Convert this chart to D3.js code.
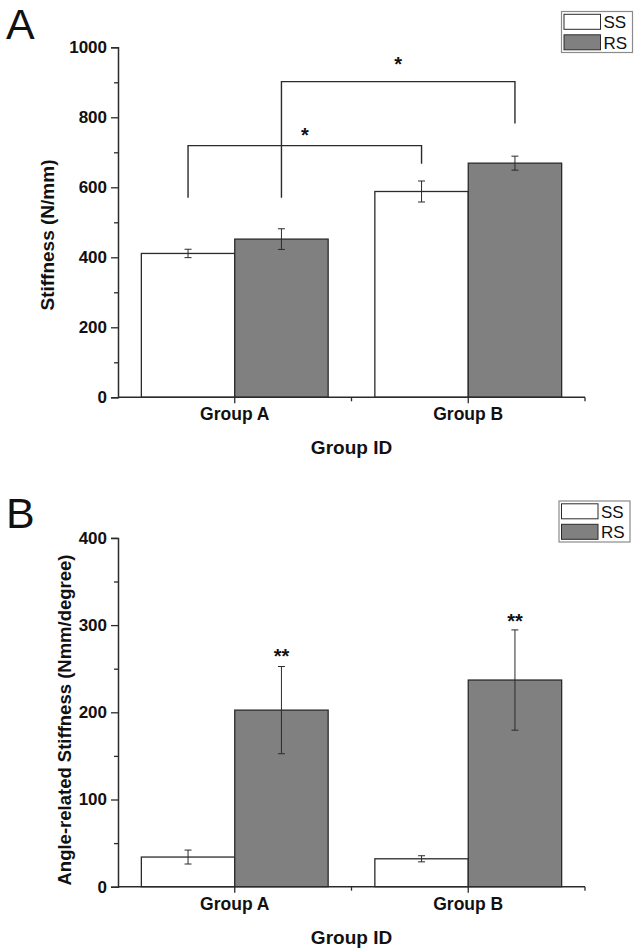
<!DOCTYPE html>
<html>
<head>
<meta charset="utf-8">
<script src="https://cdn.jsdelivr.net/npm/d3@7"></script>
<style>
  html, body { margin: 0; padding: 0; background: #fff; }
  svg { display: block; }
  text { font-family: "Liberation Sans", Arial, sans-serif; fill: #111; }
</style>
</head>
<body>
<svg id="chart" width="638" height="952"></svg>
<script>
// ---------- data ----------
const categories = ["Group A", "Group B"];
const series = ["SS", "RS"];

// Panel A: Stiffness (N/mm)
const stiffnessSS = [411, 588];
const stiffnessRS = [452, 669];
const stiffnessErrSS = [12, 30];
const stiffnessErrRS = [29.5, 20];
const stiffnessTicks = [0, 200, 400, 600, 800, 1000];
const stiffnessMinorTicks = [100, 300, 500, 700, 900];

// Significance brackets in panel A
const bracketFrom = [["Group A", "SS"], ["Group A", "RS"]];
const bracketTo = [["Group B", "SS"], ["Group B", "RS"]];
const bracketLevel = [719, 902];
const bracketLeftEnd = [570, 570];
const bracketRightEnd = [667, 782];
const bracketStarLevel = [759, 962];
const bracketLabel = ["*", "*"];

// Panel B: Angle-related Stiffness (Nmm/degree)
const angleSS = [34, 32];
const angleRS = [202.5, 237];
const angleErrSS = [8, 3.5];
const angleErrRS = [50, 57.5];
const angleTicks = [0, 100, 200, 300, 400];
const angleMinorTicks = [50, 150, 250, 350];
const angleStarLevel = [268, 308];
const angleStarLabel = ["**", "**"];

// ---------- drawing ----------
const svg = d3.select("#chart");
const INK = "#2b2b2b";
const fills = { SS: "#ffffff", RS: "#808080" };

const x0 = d3.scaleBand().domain(categories).range([118, 585]).paddingInner(0.2).paddingOuter(0.1);
const x1 = d3.scaleBand().domain(series).range([0, x0.bandwidth()]);
const cx = c => x0(c) + x0.bandwidth() / 2;
const bx = (c, s) => x0(c) + x1(s) + x1.bandwidth() / 2;

function panel(opts) {
  const y = d3.scaleLinear().domain(opts.domain).range(opts.yRange);
  const g = svg.append("g");
  const base = y(0);

  // panel letter
  g.append("text").attr("x", 6).attr("y", opts.letterY)
    .attr("font-size", 43).text(opts.letter);

  // bars
  const rows = [];
  categories.forEach((c, i) => {
    rows.push({ c, s: "SS", v: opts.ss[i], e: opts.ssErr[i] });
    rows.push({ c, s: "RS", v: opts.rs[i], e: opts.rsErr[i] });
  });
  g.selectAll("rect.bar").data(rows).join("rect")
    .attr("class", "bar")
    .attr("x", d => x0(d.c) + x1(d.s))
    .attr("width", x1.bandwidth())
    .attr("y", d => y(d.v))
    .attr("height", d => base - y(d.v))
    .attr("fill", d => fills[d.s])
    .attr("stroke", INK).attr("stroke-width", 1.3);

  // error bars
  const eg = g.selectAll("g.err").data(rows).join("g").attr("class", "err");
  eg.append("line")
    .attr("x1", d => bx(d.c, d.s)).attr("x2", d => bx(d.c, d.s))
    .attr("y1", d => y(d.v + d.e)).attr("y2", d => y(d.v - d.e))
    .attr("stroke", INK).attr("stroke-width", 1);
  [1, -1].forEach(sign => {
    eg.append("line")
      .attr("x1", d => bx(d.c, d.s) - 3.5).attr("x2", d => bx(d.c, d.s) + 3.5)
      .attr("y1", d => y(d.v + sign * d.e)).attr("y2", d => y(d.v + sign * d.e))
      .attr("stroke", INK).attr("stroke-width", 1);
  });

  // y axis
  const yAxis = d3.axisLeft(y).tickValues(opts.ticks).tickSize(7).tickPadding(4).tickFormat(d3.format("d"));
  const ya = g.append("g").attr("transform", "translate(118,0)").call(yAxis);
  ya.select(".domain").attr("stroke", INK).attr("stroke-width", 1.5);
  ya.selectAll(".tick line").attr("stroke", INK).attr("stroke-width", 1.3);
  ya.selectAll(".tick text").attr("font-size", 17).attr("font-weight", "bold")
    .attr("fill", "#111").attr("font-family", "'Liberation Sans', Arial, sans-serif");
  const yMinor = d3.axisLeft(y).tickValues(opts.minor).tickSize(4).tickFormat("");
  const ym = g.append("g").attr("transform", "translate(118,0)").call(yMinor);
  ym.select(".domain").remove();
  ym.selectAll(".tick line").attr("stroke", INK).attr("stroke-width", 1.3);

  // x axis
  const xa = g.append("g").attr("transform", `translate(0,${base})`);
  xa.append("line").attr("x1", 118).attr("x2", 585).attr("y1", 0).attr("y2", 0)
    .attr("stroke", INK).attr("stroke-width", 1.5);
  xa.selectAll("line.major").data(categories).join("line").attr("class", "major")
    .attr("x1", d => cx(d)).attr("x2", d => cx(d)).attr("y1", 0).attr("y2", 6)
    .attr("stroke", INK).attr("stroke-width", 1.3);
  xa.selectAll("line.minor").data(categories).join("line").attr("class", "minor")
    .attr("x1", d => cx(d) + x0.step() / 2).attr("x2", d => cx(d) + x0.step() / 2)
    .attr("y1", 0).attr("y2", 4)
    .attr("stroke", INK).attr("stroke-width", 1.3);
  xa.selectAll("text.cat").data(categories).join("text").attr("class", "cat")
    .attr("x", d => cx(d)).attr("y", 23).attr("text-anchor", "middle")
    .attr("font-size", 17.5).attr("font-weight", "bold").text(d => d);
  xa.append("text").attr("x", 351.5).attr("y", 57).attr("text-anchor", "middle")
    .attr("font-size", 19).attr("font-weight", "bold").text("Group ID");

  // y title
  g.append("text")
    .attr("transform", `translate(${opts.titleX},${opts.titleY}) rotate(-90)`)
    .attr("text-anchor", "middle").attr("font-size", opts.titleSize).attr("font-weight", "bold")
    .text(opts.title);

  // legend
  const lg = g.append("g").attr("transform", `translate(${opts.legend[0]},${opts.legend[1]})`);
  lg.append("rect").attr("x", 0).attr("y", 0).attr("width", 71).attr("height", 41)
    .attr("fill", "#fff").attr("stroke", "#8a8a8a").attr("stroke-width", 1.2);
  series.forEach((s, i) => {
    lg.append("rect").attr("x", 2.5).attr("y", 2.8 + i * 20.5).attr("width", 36.5).attr("height", 15)
      .attr("fill", fills[s]).attr("stroke", INK).attr("stroke-width", 1);
    lg.append("text").attr("x", 42).attr("y", 16.5 + i * 20.5).attr("font-size", 17).text(s);
  });

  return { g, y };
}

const pA = panel({
  letter: "A", letterY: 39,
  domain: [0, 1000], yRange: [397.3, 47.3],
  ss: stiffnessSS, rs: stiffnessRS, ssErr: stiffnessErrSS, rsErr: stiffnessErrRS,
  ticks: stiffnessTicks, minor: stiffnessMinorTicks,
  title: "Stiffness (N/mm)", titleX: 54, titleY: 235, titleSize: 19,
  legend: [561.5, 11.5]
});

// brackets
bracketFrom.forEach((f, i) => {
  const t = bracketTo[i];
  const xl = bx(f[0], f[1]), xr = bx(t[0], t[1]);
  const y = pA.y;
  pA.g.append("path")
    .attr("d", `M${xl},${y(bracketLeftEnd[i])}V${y(bracketLevel[i])}H${xr}V${y(bracketRightEnd[i])}`)
    .attr("fill", "none").attr("stroke", INK).attr("stroke-width", 1.4);
  pA.g.append("text").attr("x", (xl + xr) / 2).attr("y", y(bracketStarLevel[i]) + 10)
    .attr("text-anchor", "middle").attr("font-size", 20).attr("font-weight", "bold")
    .text(bracketLabel[i]);
});

const pB = panel({
  letter: "B", letterY: 528,
  domain: [0, 400], yRange: [886.7, 537.9],
  ss: angleSS, rs: angleRS, ssErr: angleErrSS, rsErr: angleErrRS,
  ticks: angleTicks, minor: angleMinorTicks,
  title: "Angle-related Stiffness (Nmm/degree)", titleX: 71, titleY: 720, titleSize: 18.5,
  legend: [559, 501]
});

categories.forEach((c, i) => {
  pB.g.append("text").attr("x", bx(c, "RS")).attr("y", pB.y(angleStarLevel[i]) + 10)
    .attr("text-anchor", "middle").attr("font-size", 20).attr("font-weight", "bold")
    .text(angleStarLabel[i]);
});
</script>
</body>
</html>
